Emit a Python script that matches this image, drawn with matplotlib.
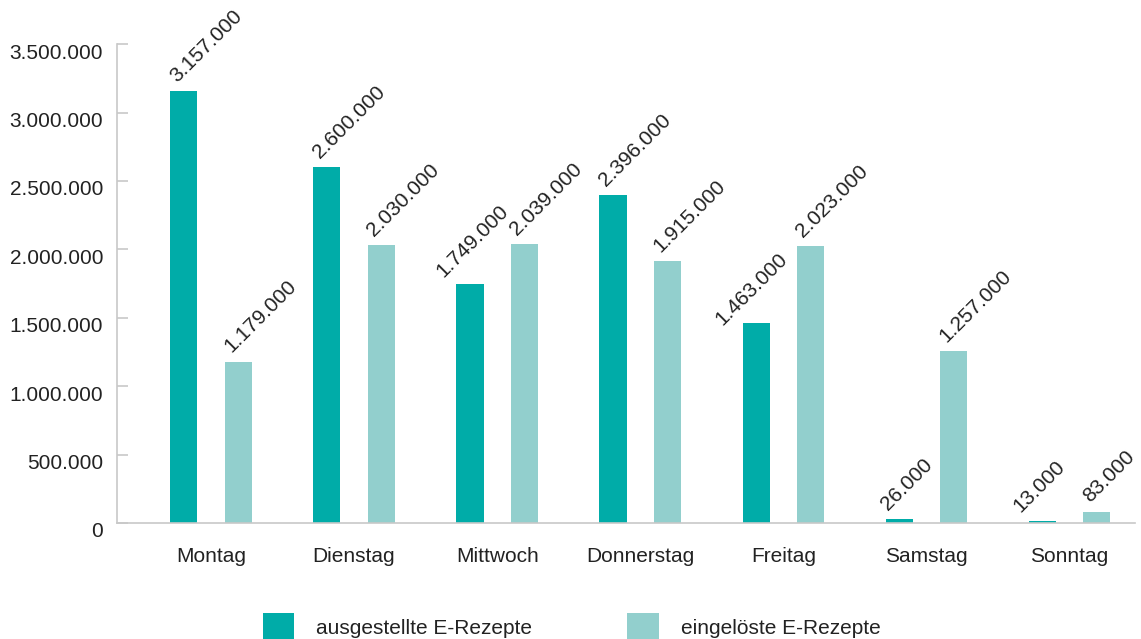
import matplotlib.pyplot as plt
import matplotlib.transforms as mtransforms
import numpy as np

plt.rcParams['font.family'] = ['Liberation Sans', 'DejaVu Sans']

tage = ["Montag", "Dienstag", "Mittwoch", "Donnerstag", "Freitag", "Samstag", "Sonntag"]
ausgestellt = [3157000, 2600000, 1749000, 2396000, 1463000, 26000, 13000]
eingeloest = [1179000, 2030000, 2039000, 1915000, 2023000, 1257000, 83000]
y_ticks = [0, 500000, 1000000, 1500000, 2000000, 2500000, 3000000, 3500000]

c_dark = "#00aca8"
c_light = "#92cfcd"
c_text = "#222222"
c_axis = "#c8c8c8"

# labels that got pushed aside in the original to avoid overlap (points)
nudge = {("a", 2): (-14, -2), ("a", 4): (-19, -8), ("a", 5): (-3, 0), ("a", 6): (-11, 0)}


def fmt(v):
    return f"{v:,}".replace(",", ".")


fig = plt.figure(figsize=(11.41, 6.39), dpi=100)
ax = fig.add_axes([0.1025, 0.1815, 0.8925, 0.7495])

x = np.arange(len(tage))
w = 0.19
off = 0.19
b1 = ax.bar(x - off, ausgestellt, w, color=c_dark, label="ausgestellte E-Rezepte")
b2 = ax.bar(x + off, eingeloest, w, color=c_light, label="eingelöste E-Rezepte")

for key, bars, vals in [("a", b1, ausgestellt), ("e", b2, eingeloest)]:
    for i, (r, v) in enumerate(zip(bars, vals)):
        dx, dy = nudge.get((key, i), (0, 0))
        ax.annotate(fmt(v), (r.get_x() + r.get_width() / 2, r.get_height()),
                    xytext=(-3 + dx, 4 + dy), textcoords="offset points",
                    rotation=45, rotation_mode="anchor", ha="left", va="bottom",
                    fontsize=15, color=c_text)

ax.set_xlim(-0.657, 6.46)
ax.set_ylim(0, 3500000)
ax.set_yticks(y_ticks)
ax.set_yticklabels([fmt(t) for t in y_ticks])
ax.set_xticks(x)
ax.set_xticklabels(tage)

for s in ["top", "right"]:
    ax.spines[s].set_visible(False)
for s in ["left", "bottom"]:
    ax.spines[s].set_color(c_axis)
    ax.spines[s].set_linewidth(1.2)

ax.tick_params(axis="y", direction="in", length=8, color=c_axis, width=1.2,
               labelsize=15, labelcolor=c_text, pad=10)
ax.tick_params(axis="x", length=0, labelsize=15, labelcolor=c_text, pad=17)

# labels sit a bit below their ticks in the original
shift = mtransforms.ScaledTranslation(0, -5 / 72, fig.dpi_scale_trans)
for lab in ax.get_yticklabels():
    lab.set_transform(lab.get_transform() + shift)

fig.legend(loc="center", bbox_to_anchor=(0.501, 0.019), ncol=2, frameon=False,
           fontsize=15, labelcolor=c_text, handlelength=1.5, handleheight=1.65,
           handletextpad=1.06, columnspacing=4.57)

fig.savefig("out.png", dpi=100)
